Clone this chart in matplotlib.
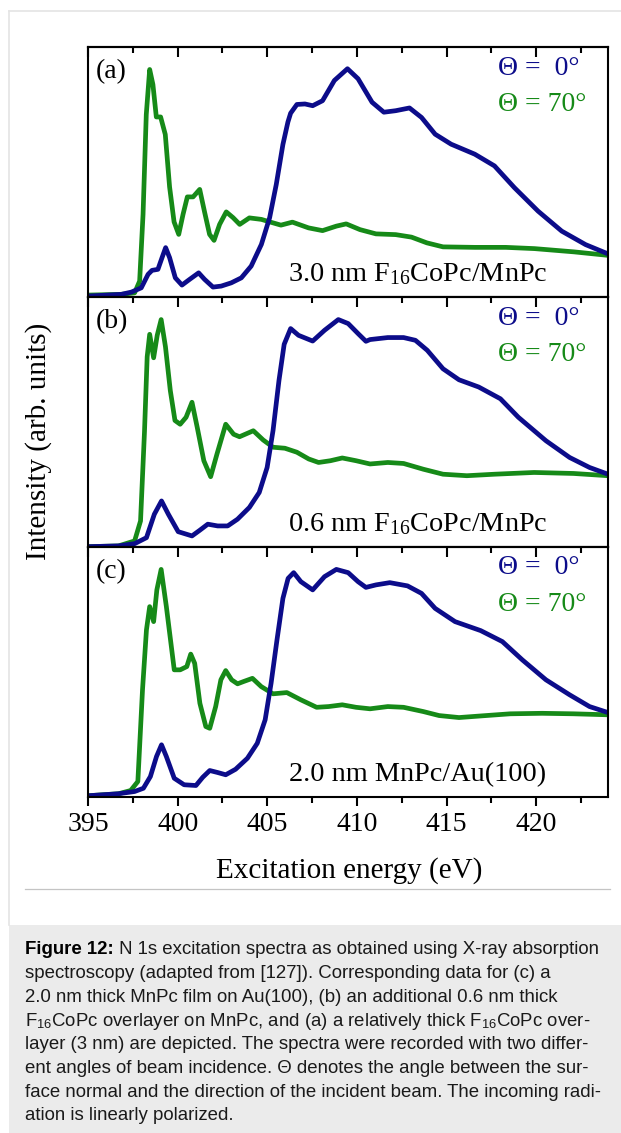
import matplotlib
matplotlib.use("Agg")
import matplotlib.pyplot as plt
from matplotlib.lines import Line2D
from matplotlib.patches import Rectangle
from matplotlib.ticker import MultipleLocator

# ---- data (energy in eV, intensity in panel units 0..1) ----
# panel (a): 3.0 nm F16CoPc/MnPc
a0_e = [395.0, 396.86, 397.42, 397.97, 398.35, 398.57, 398.9, 399.13, 399.33, 399.55, 399.87,
        400.24, 400.67, 401.17, 401.5, 401.97, 402.43, 402.99, 403.55, 404.1, 404.67, 405.13,
        405.5, 405.87, 406.15, 406.3, 406.65, 407.1, 407.53, 408.08, 408.74, 409.47, 410.06, 410.84,
        411.5, 412.16, 412.93, 413.6, 414.36, 415.25, 416.57, 417.67, 418.78, 420.1, 421.42,
        422.75, 424.0]
a0_i = [0.003, 0.01, 0.019, 0.036, 0.09, 0.106, 0.11, 0.157, 0.197, 0.157, 0.076,
        0.047, 0.07, 0.096, 0.07, 0.039, 0.043, 0.056, 0.076, 0.123, 0.21, 0.317,
        0.45, 0.61, 0.70, 0.735, 0.77, 0.772, 0.765, 0.785, 0.866, 0.913, 0.873, 0.779,
        0.739, 0.745, 0.756, 0.718, 0.651, 0.611, 0.571, 0.524, 0.437, 0.343, 0.263,
        0.209, 0.172]
a70_e = [395.0, 396.86, 397.6, 397.88, 398.07, 398.25, 398.44, 398.62, 398.81, 399.05, 399.31,
         399.55, 399.8, 400.06, 400.3, 400.54, 400.86, 401.23, 401.5, 401.78, 402.03, 402.34,
         402.71, 403.09, 403.46, 404.0, 404.67, 405.13, 405.76, 406.4, 407.3, 408.08, 408.85,
         409.4, 410.17, 411.06, 412.16, 413.04, 413.9, 414.8, 416.57, 418.3, 419.9, 422.1, 424.0]
a70_i = [0.007, 0.01, 0.016, 0.063, 0.33, 0.73, 0.91, 0.85, 0.72, 0.72, 0.65,
         0.44, 0.30, 0.25, 0.33, 0.40, 0.40, 0.43, 0.34, 0.25, 0.226, 0.29,
         0.34, 0.317, 0.29, 0.316, 0.31, 0.30, 0.287, 0.299, 0.276, 0.265, 0.283,
         0.292, 0.269, 0.252, 0.249, 0.239, 0.216, 0.20, 0.198, 0.198, 0.193, 0.18, 0.166]

# panel (b): 0.6 nm F16CoPc/MnPc
b0_e = [395.0, 396.7, 397.6, 398.26, 398.7, 399.1, 399.48, 400.03, 400.8, 401.24, 401.68,
        402.23, 402.79, 403.34, 404.0, 404.55, 404.99, 405.32, 405.65, 405.94, 406.3, 406.74,
        407.53, 408.19, 408.96, 409.51, 410.06, 410.5, 410.73, 411.72, 412.6, 413.26, 413.92,
        414.8, 415.69, 416.79, 418.0, 419.0, 420.54, 421.86, 422.97, 424.0]
b0_i = [0.0, 0.003, 0.012, 0.036, 0.13, 0.183, 0.13, 0.06, 0.043, 0.066, 0.09,
        0.083, 0.083, 0.11, 0.157, 0.217, 0.317, 0.465, 0.665, 0.81, 0.873, 0.846,
        0.823, 0.866, 0.909, 0.893, 0.853, 0.822, 0.829, 0.837, 0.837, 0.826, 0.786,
        0.712, 0.668, 0.639, 0.592, 0.518, 0.424, 0.357, 0.317, 0.29]
b70_e = [395.0, 396.7, 397.6, 397.93, 398.15, 398.3, 398.44, 398.66, 398.86, 399.08, 399.32,
         399.59, 399.85, 400.14, 400.47, 400.8, 401.09, 401.46, 401.84, 402.19, 402.68, 403.12,
         403.45, 404.22, 404.77, 405.32, 405.98, 406.65, 407.31, 407.86, 408.52, 409.18, 409.95,
         410.73, 411.72, 412.6, 413.7, 414.8, 416.13, 417.67, 419.88, 422.08, 424.0]
b70_i = [0.0, 0.003, 0.023, 0.103, 0.46, 0.76, 0.85, 0.756, 0.846, 0.909, 0.80,
         0.625, 0.505, 0.49, 0.518, 0.578, 0.478, 0.344, 0.28, 0.37, 0.49, 0.45,
         0.44, 0.464, 0.427, 0.398, 0.394, 0.378, 0.351, 0.337, 0.344, 0.355, 0.344,
         0.331, 0.337, 0.333, 0.31, 0.29, 0.284, 0.29, 0.297, 0.293, 0.284]

# panel (c): 2.0 nm MnPc/Au(100)
c0_e = [395.0, 396.7, 397.6, 398.09, 398.48, 398.82, 399.1, 399.37, 399.81, 400.36, 401.02,
        401.4, 401.79, 402.23, 402.68, 403.23, 403.89, 404.44, 404.88, 405.21, 405.54, 405.87,
        406.16, 406.47, 406.87, 407.53, 408.19, 408.85, 409.51, 410.06, 410.5, 411.06, 411.83,
        412.82, 413.6, 414.36, 415.47, 416.9, 418.11, 419.22, 420.54, 421.86, 422.97, 424.0]
c0_i = [0.003, 0.011, 0.02, 0.033, 0.08, 0.16, 0.207, 0.16, 0.073, 0.047, 0.044,
        0.077, 0.104, 0.096, 0.087, 0.109, 0.153, 0.213, 0.307, 0.453, 0.627, 0.793,
        0.873, 0.896, 0.86, 0.827, 0.88, 0.909, 0.896, 0.86, 0.837, 0.847, 0.856,
        0.843, 0.813, 0.753, 0.70, 0.664, 0.62, 0.547, 0.467, 0.407, 0.36, 0.336]
c70_e = [395.0, 396.7, 397.38, 397.78, 398.04, 398.26, 398.44, 398.66, 398.84, 399.08, 399.37,
         399.81, 400.14, 400.51, 400.73, 400.95, 401.24, 401.57, 401.79, 402.12, 402.41, 402.68,
         403.01, 403.34, 403.67, 404.17, 404.66, 405.32, 406.09, 406.87, 407.75, 408.42, 409.18,
         409.95, 410.73, 411.72, 412.6, 413.7, 414.58, 415.69, 417.01, 418.55, 420.32, 422.08, 424.0]
c70_i = [0.003, 0.011, 0.024, 0.06, 0.427, 0.667, 0.76, 0.70, 0.827, 0.909, 0.76,
         0.507, 0.507, 0.52, 0.57, 0.533, 0.373, 0.28, 0.273, 0.36, 0.467, 0.504,
         0.467, 0.451, 0.46, 0.473, 0.44, 0.411, 0.416, 0.387, 0.357, 0.36, 0.367,
         0.357, 0.351, 0.36, 0.357, 0.34, 0.324, 0.316, 0.323, 0.331, 0.333, 0.331, 0.327]

panel_tags = ["(a)", "(b)", "(c)"]
sample_names = [r"3.0 nm F$_{16}$CoPc/MnPc", r"0.6 nm F$_{16}$CoPc/MnPc", "2.0 nm MnPc/Au(100)"]
angle_labels = ["\u0398 =  0\u00b0", "\u0398 = 70\u00b0"]
x_ticks = [395, 400, 405, 410, 415, 420]

caption_lines = [
    " N 1s excitation spectra as obtained using X-ray absorption",
    "spectroscopy (adapted from [127]). Corresponding data for (c) a",
    "2.0 nm thick MnPc film on Au(100), (b) an additional 0.6 nm thick",
    r"F$_{\mathsf{16}}$CoPc overlayer on MnPc, and (a) a relatively thick F$_{\mathsf{16}}$CoPc over-",
    "layer (3 nm) are depicted. The spectra were recorded with two differ-",
    "ent angles of beam incidence. \u0398 denotes the angle between the sur-",
    "face normal and the direction of the incident beam. The incoming radi-",
    "ation is linearly polarized.",
]

BLUE = "#0c0c8a"
GREEN = "#168a18"

plt.rcParams["font.family"] = ["Liberation Serif", "DejaVu Serif"]
plt.rcParams["mathtext.fontset"] = "custom"
plt.rcParams["mathtext.rm"] = "Liberation Serif"
plt.rcParams["mathtext.it"] = "Liberation Serif:italic"
plt.rcParams["mathtext.bf"] = "Liberation Serif:bold"
plt.rcParams["mathtext.sf"] = "Liberation Sans"

W, H = 621, 1133
fig = plt.figure(figsize=(W / 100, H / 100), dpi=100)


def fx(px):
    return px / W


def fy(py):
    return 1 - py / H


# page decoration: light frame, rule under the chart, grey caption box
fig.add_artist(Line2D([fx(9), fx(9)], [fy(11), fy(925)], color="#e4e4e4", lw=1.2))
fig.add_artist(Line2D([fx(9), 1.0], [fy(11), fy(11)], color="#e4e4e4", lw=1.2))
fig.add_artist(Line2D([fx(25), fx(610)], [fy(889), fy(889)], color="#c4c4c4", lw=0.9))
fig.add_artist(Rectangle((fx(9), 0), 1 - fx(9), fy(925), color="#ebebeb", lw=0))

left, right = fx(88), fx(608)
top, bottom = fy(47), fy(796.5)
ph = (top - bottom) / 3

series = [(a0_e, a0_i, a70_e, a70_i), (b0_e, b0_i, b70_e, b70_i), (c0_e, c0_i, c70_e, c70_i)]

for k, (e0, i0, e70, i70) in enumerate(series):
    ax = fig.add_axes([left, top - (k + 1) * ph, right - left, ph])
    ax.plot(e70, i70, color=GREEN, lw=3.4, solid_joinstyle="round", solid_capstyle="round")
    ax.plot(e0, i0, color=BLUE, lw=3.4, solid_joinstyle="round", solid_capstyle="round")
    ax.set_xlim(395, 424)
    ax.set_ylim(0, 1)
    ax.set_yticks([])
    for s in ax.spines.values():
        s.set_linewidth(1.5)
    ax.xaxis.set_major_locator(MultipleLocator(5))
    ax.xaxis.set_minor_locator(MultipleLocator(2.5))

    top_ax = ax.secondary_xaxis("top")
    top_ax.xaxis.set_major_locator(MultipleLocator(5))
    top_ax.xaxis.set_minor_locator(MultipleLocator(2.5))
    top_ax.tick_params(which="both", direction="in", labeltop=False, width=1.5)
    top_ax.tick_params(which="major", length=7)
    top_ax.tick_params(which="minor", length=4.5)
    top_ax.spines["top"].set_linewidth(1.5)

    if k < 2:
        ax.tick_params(axis="x", which="both", bottom=False, labelbottom=False)
    else:
        ax.set_xticks(x_ticks)
        ax.tick_params(axis="x", which="both", direction="out", width=1.5, labelsize=20, pad=5)
        ax.tick_params(axis="x", which="major", length=6.5)
        ax.tick_params(axis="x", which="minor", length=4.5)

    ax.text(0.015, 0.9, panel_tags[k], transform=ax.transAxes, fontsize=20,
            ha="left", va="center")
    ax.text(0.788, 0.915, angle_labels[0], transform=ax.transAxes, fontsize=20,
            color=BLUE, ha="left", va="center")
    ax.text(0.788, 0.768, angle_labels[1], transform=ax.transAxes, fontsize=20,
            color=GREEN, ha="left", va="center")
    ax.text(0.634, 0.062, sample_names[k], transform=ax.transAxes, fontsize=20.3,
            ha="center", va="baseline")

fig.text(fx(349), fy(871), "Excitation energy (eV)", fontsize=21, ha="center", va="center")
fig.text(fx(39), fy(441), "Intensity (arb. units)", fontsize=21, rotation=90,
         ha="center", va="center")

# caption
cap_font = ["Liberation Sans", "DejaVu Sans"]
cap_size = 13.4
y0 = 950
dy = 23.7
head = fig.text(fx(25), fy(y0), "Figure 12:", fontsize=cap_size, fontweight="bold",
                family=cap_font, ha="left", va="center")
fig.canvas.draw()
bb = head.get_window_extent(renderer=fig.canvas.get_renderer())
head_right = bb.x1 / W
for n, line in enumerate(caption_lines):
    x = head_right if n == 0 else fx(25)
    fig.text(x, fy(y0 + n * dy), line, fontsize=cap_size, family=cap_font,
             ha="left", va="center", color="#1a1a1a")

fig.savefig("out.png", dpi=100)
